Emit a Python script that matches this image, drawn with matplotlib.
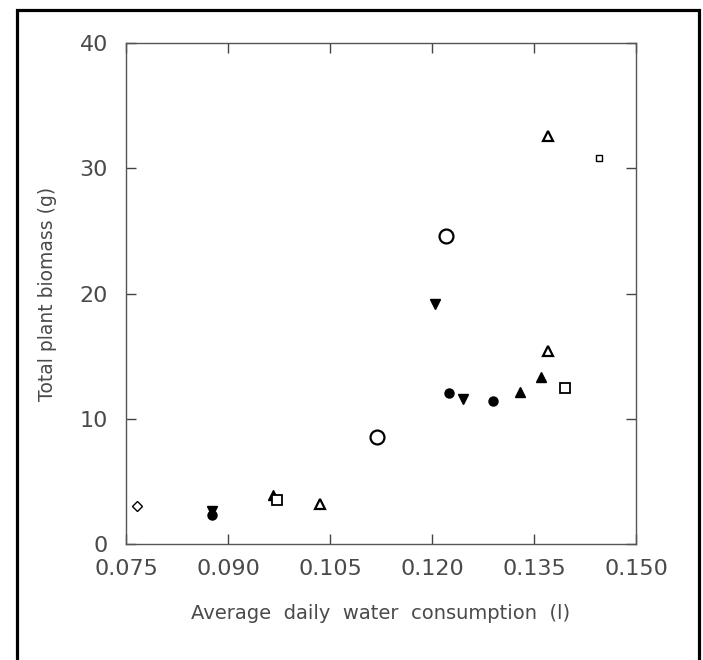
import matplotlib
matplotlib.use("Agg")
import matplotlib.pyplot as plt
from matplotlib.patches import Rectangle

# Data (x: average daily water consumption in l, y: total plant biomass in g)
diamond_open_x = [0.0766]
diamond_open_y = [3.03]

circle_filled_x = [0.0876, 0.1225, 0.1290]
circle_filled_y = [2.30, 12.03, 11.42]

tri_down_filled_x = [0.0876, 0.1204, 0.1245]
tri_down_filled_y = [2.60, 19.16, 11.58]

tri_up_filled_x = [0.0966, 0.1330, 0.1360]
tri_up_filled_y = [3.90, 12.11, 13.30]

square_open_x = [0.0972, 0.1395]
square_open_y = [3.50, 12.43]

square_small_x = [0.1445]
square_small_y = [30.80]

tri_up_open_x = [0.1035, 0.1370, 0.1370]
tri_up_open_y = [3.17, 15.43, 32.60]

circle_open_x = [0.1119, 0.1221]
circle_open_y = [8.54, 24.60]

xticks = [0.075, 0.090, 0.105, 0.120, 0.135, 0.150]
xtick_labels = ["0.075", "0.090", "0.105", "0.120", "0.135", "0.150"]
yticks = [0, 10, 20, 30, 40]
ytick_labels = ["0", "10", "20", "30", "40"]

plt.rcParams['font.family'] = ['DejaVu Sans']
W, H = 703, 660
fig = plt.figure(figsize=(W / 100, H / 100), dpi=100)
ax = fig.add_axes([126 / W, 1 - 544 / H, 510 / W, 501 / H])

k = 'black'
ax.plot(diamond_open_x, diamond_open_y, 'D', ms=5, mfc='white', mec=k, mew=1.0, ls='none')
ax.plot(circle_filled_x, circle_filled_y, 'o', ms=6.5, mfc=k, mec=k, ls='none')
ax.plot(tri_down_filled_x, tri_down_filled_y, 'v', ms=7, mfc=k, mec=k, ls='none')
ax.plot(tri_up_filled_x, tri_up_filled_y, '^', ms=7, mfc=k, mec=k, ls='none')
ax.plot(square_open_x, square_open_y, 's', ms=6.5, mfc='white', mec=k, mew=1.3, ls='none')
ax.plot(square_small_x, square_small_y, 's', ms=5, mfc='white', mec=k, mew=1.0, ls='none')
ax.plot(tri_up_open_x, tri_up_open_y, '^', ms=6.5, mfc='white', mec=k, mew=1.6, ls='none')
ax.plot(circle_open_x, circle_open_y, 'o', ms=10, mfc='white', mec=k, mew=1.6, ls='none')

ax.set_xlim(0.075, 0.150)
ax.set_ylim(0, 40)
ax.set_xticks(xticks)
ax.set_xticklabels(xtick_labels)
ax.set_yticks(yticks)
ax.set_yticklabels(ytick_labels)

txt = '#4a4a4a'
ax.tick_params(direction='in', length=7, width=1, color='#444444', top=True, right=True,
               labelsize=16, labelcolor=txt)
ax.tick_params(axis='x', pad=11)
ax.tick_params(axis='y', pad=13)
for s in ax.spines.values():
    s.set_color('#555555')
    s.set_linewidth(1.0)

ax.set_xlabel('Average  daily  water  consumption  (l)', fontsize=14, color=txt, labelpad=18)
ax.set_ylabel('Total plant biomass (g)', fontsize=13.5, color=txt, labelpad=16)

# Outer frame around the figure
border = Rectangle((16.5 / W, -0.05), (698.5 - 16.5) / W, 1.05 - 9.5 / H,
                   transform=fig.transFigure, fill=False, edgecolor='black', linewidth=2.3)
fig.patches.append(border)

fig.savefig('out.png', dpi=100)
